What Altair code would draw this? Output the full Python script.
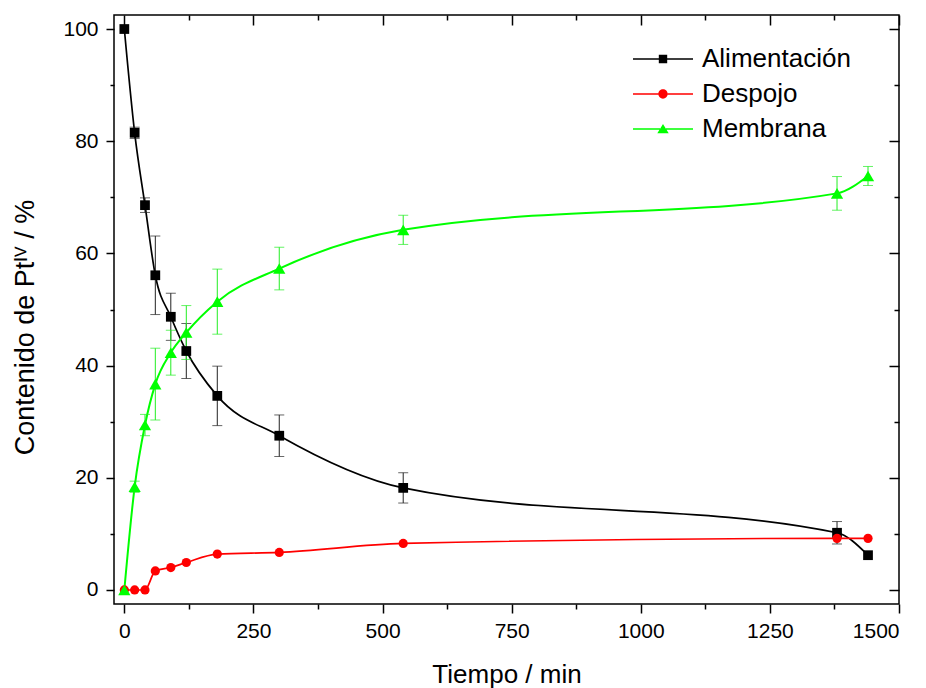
import altair as alt
import pandas as pd

# Sampling times (min)
tiempo = [0, 20, 40, 60, 90, 120, 180, 300, 540, 1380, 1440]

# Pt(IV) content (%) per compartment, with standard deviations
alimentacion = [100.0, 81.5, 68.6, 56.1, 48.7, 42.6, 34.6, 27.5, 18.2, 10.2, 6.2]
alimentacion_err = [0.0, 1.0, 1.3, 7.0, 4.2, 4.9, 5.3, 3.7, 2.7, 2.0, 0.0]
despojo = [0.0, 0.0, 0.0, 3.4, 4.0, 4.9, 6.4, 6.7, 8.3, 9.2, 9.2]
despojo_err = [0.0, 0.0, 0.0, 0.0, 0.0, 0.0, 0.0, 0.0, 0.0, 0.0, 0.0]
membrana = [0.0, 18.4, 29.4, 36.7, 42.3, 45.9, 51.4, 57.3, 64.2, 70.7, 73.8]
membrana_err = [0.0, 1.0, 1.9, 6.4, 4.0, 4.8, 5.8, 3.8, 2.6, 3.0, 1.7]

series = ["Alimentación", "Despojo", "Membrana"]

# Axis ticks
x_major = [0, 250, 500, 750, 1000, 1250, 1500]
x_minor = [125, 375, 625, 875, 1125, 1375]
y_major = [0, 20, 40, 60, 80, 100]
y_minor = [10, 30, 50, 70, 90]

colors = ["#000000", "#ff0000", "#00ff00"]
err_colors = ["#222222", "#ff0000", "#22ee22"]
markers = [("square", 95), ("circle", 85), ("triangle-up", 150)]
line_widths = [1.7, 1.7, 2.0]

rows = []
for name, vals, errs in [
    ("Alimentación", alimentacion, alimentacion_err),
    ("Despojo", despojo, despojo_err),
    ("Membrana", membrana, membrana_err),
]:
    for t, v, e in zip(tiempo, vals, errs):
        rows.append({"serie": name, "tiempo": t, "valor": v, "err": e,
                     "lo": v - e, "hi": v + e})
df = pd.DataFrame(rows)

FONT = "Liberation Sans"
xs = alt.Scale(domain=[-20, 1500], nice=False, zero=False)
ys = alt.Scale(domain=[-2.5, 102.5], nice=False, zero=False)
color_scale = alt.Scale(domain=series, range=colors)

# Legend glyphs: a line segment with the series marker in the middle
t = 0.026
sq = 0.14
r = 0.155
legend_paths = [
    f"M-1,-{t}H-{sq}V{t}H-1Z M{sq},-{t}H1V{t}H{sq}Z M-{sq},-{sq}H{sq}V{sq}H-{sq}Z",
    f"M-1,-{t}H-{r}V{t}H-1Z M{r},-{t}H1V{t}H{r}Z "
    f"M-{r},0A{r},{r} 0 1,1 {r},0A{r},{r} 0 1,1 -{r},0Z",
    f"M-1,-{t}H-0.1V{t}H-1Z M0.1,-{t}H1V{t}H0.1Z M0,-0.17L0.19,0.145H-0.19Z",
]
shape_scale = alt.Scale(domain=series, range=legend_paths)


def xenc(axis=None, field="tiempo:Q"):
    return alt.X(field, scale=xs, axis=axis)


def yenc(axis=None, field="valor:Q"):
    return alt.Y(field, scale=ys, axis=axis)


base = alt.Chart(df)
axis_style = dict(grid=False, domain=False, tickColor="black", tickWidth=1.5)

# Invisible marks that carry the combined colour/shape legend
legend_props = dict(title=None, orient="none", legendX=519, legendY=31.5)
legend_layer = base.mark_point(filled=True, size=0).encode(
    x=xenc(alt.Axis(values=x_major, format="d", title="Tiempo / min",
                    tickSize=9, labelPadding=7, titlePadding=20, **axis_style)),
    y=yenc(alt.Axis(values=y_major, title="Contenido de Ptᴵⱽ / %",
                    tickSize=8, labelPadding=8, titlePadding=23,
                    titleFontSize=27, titleY=312, **axis_style)),
    color=alt.Color("serie:N", scale=color_scale, sort=series,
                    legend=alt.Legend(**legend_props)),
    shape=alt.Shape("serie:N", scale=shape_scale, sort=series,
                    legend=alt.Legend(**legend_props)),
)

line_layers, err_layers, point_layers = [], [], []
for name, col, ecol, (shape, size), lw in zip(series, colors, err_colors,
                                               markers, line_widths):
    sub = base.transform_filter(alt.datum.serie == name)
    line_layers.append(
        sub.mark_line(interpolate="monotone", strokeWidth=lw, color=col)
        .encode(x=xenc(), y=yenc())
    )
    errs = sub.transform_filter("datum.err > 0")
    err_layers.append(
        errs.mark_rule(strokeWidth=1, color=ecol)
        .encode(x=xenc(), y=yenc(field="lo:Q"), y2="hi:Q")
    )
    for f in ("lo:Q", "hi:Q"):
        err_layers.append(
            errs.mark_tick(orient="horizontal", size=10, thickness=1, color=ecol)
            .encode(x=xenc(), y=yenc(field=f))
        )
    point_layers.append(
        sub.mark_point(filled=True, shape=shape, size=size, color=col, opacity=1)
        .encode(x=xenc(), y=yenc())
    )


def axis_layer(xaxis, yaxis):
    return base.mark_point(opacity=0).encode(x=xenc(xaxis), y=yenc(yaxis))


minor_ax = axis_layer(
    alt.Axis(orient="bottom", values=x_minor, labels=False, title=None,
             tickSize=5, **axis_style),
    alt.Axis(orient="left", values=y_minor, labels=False, title=None,
             tickSize=4, **axis_style),
)
mirror_major = axis_layer(
    alt.Axis(orient="top", values=x_major, labels=False, title=None,
             tickSize=10, offset=-10, **axis_style),
    alt.Axis(orient="right", values=y_major, labels=False, title=None,
             tickSize=10, offset=-10, **axis_style),
)
mirror_minor = axis_layer(
    alt.Axis(orient="top", values=x_minor, labels=False, title=None,
             tickSize=5, offset=-5, **axis_style),
    alt.Axis(orient="right", values=y_minor, labels=False, title=None,
             tickSize=5, offset=-5, **axis_style),
)

chart = (
    alt.layer(legend_layer, *line_layers, *err_layers, *point_layers,
              minor_ax, mirror_major, mirror_minor)
    .resolve_axis(x="independent", y="independent")
    .properties(width=785, height=589, autosize="none",
                padding={"left": 114, "top": 15, "right": 27, "bottom": 84},
                background="white")
    .configure_view(stroke="black", strokeWidth=1.5)
    .configure_axis(labelFont=FONT, labelFontSize=21, labelColor="black",
                    titleFont=FONT, titleFontSize=26, titleColor="black",
                    titleFontWeight="normal")
    .configure_legend(padding=0, symbolSize=3600, symbolStrokeWidth=0,
                      clipHeight=25, rowPadding=8, labelOffset=9,
                      labelFont=FONT, labelFontSize=26, labelColor="black",
                      symbolOpacity=1, labelLimit=0)
)

chart.save("out.html", embed_options={"renderer": "svg", "actions": False})
